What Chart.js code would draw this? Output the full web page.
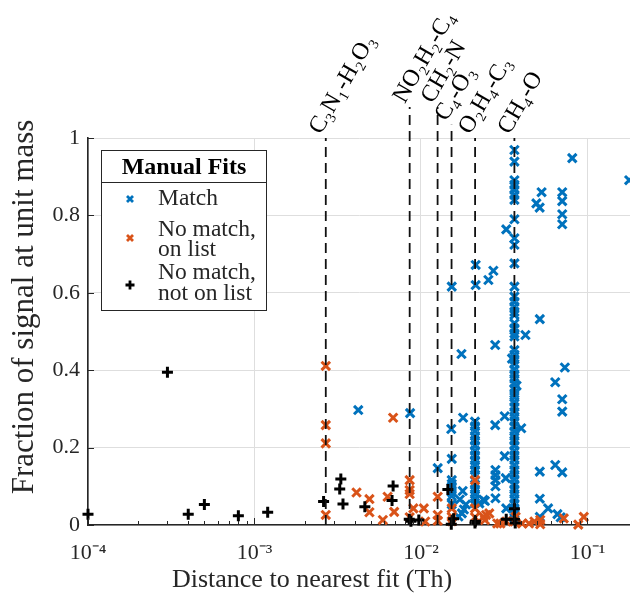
<!DOCTYPE html>
<html>
<head>
<meta charset="utf-8">
<script src="https://cdn.jsdelivr.net/npm/chart.js@4.4.1/dist/chart.umd.min.js"></script>
<style>
  html, body { margin: 0; padding: 0; background: #fff; }
  #wrap { width: 630px; height: 595px; }
</style>
</head>
<body>
<div id="wrap"><canvas id="chart" width="630" height="595"></canvas></div>
<script>
// distance to nearest fit (Th) / fraction of signal at unit mass
const matchX = [
  0.0042, 0.0086, 0.0126, 0.0153, 0.0152, 0.0153, 0.0153, 0.0153, 0.0153, 0.0153, 0.0153, 0.0153,
  0.0179, 0.0175, 0.0178, 0.0171, 0.0186, 0.0181, 0.0168, 0.0176, 0.0237, 0.0224, 0.0242, 0.0213, 0.0213,
  0.0211, 0.0211, 0.0211, 0.0211, 0.0211, 0.0211, 0.0211, 0.0211, 0.0211, 0.0211, 0.0211, 0.0211,
  0.0211, 0.0211, 0.0211, 0.0211, 0.0211,
  0.0254, 0.0272, 0.0279, 0.0279, 0.0280, 0.0280, 0.0280, 0.0280, 0.0280,
  0.0318, 0.0318, 0.0323, 0.0325, 0.0325, 0.0352, 0.0375, 0.0424, 0.0400,
  0.0517, 0.0493, 0.0516, 0.0530, 0.0705, 0.0705, 0.0705, 0.0705, 0.0810, 0.1780,
  0.0731, 0.0640, 0.0705, 0.0705, 0.0517, 0.0517, 0.0517, 0.0640, 0.0705, 0.0580, 0.0660, 0.0690,
  0.0364, 0.0364, 0.0364, 0.0364, 0.0364, 0.0364, 0.0364, 0.0364, 0.0364, 0.0364, 0.0364, 0.0364,
  0.0364, 0.0364, 0.0364, 0.0364, 0.0364, 0.0364, 0.0364, 0.0364, 0.0364,
  0.0364, 0.0364, 0.0364, 0.0364, 0.0364, 0.0364, 0.0364, 0.0364, 0.0364, 0.0364, 0.0364, 0.0364,
  0.0364, 0.0364, 0.0364, 0.0364, 0.0364, 0.0364, 0.0364, 0.0364, 0.0364, 0.0364, 0.0364, 0.0364,
  0.0364, 0.0364, 0.0364, 0.0364, 0.0364, 0.0364, 0.0364, 0.0364, 0.0364, 0.0364, 0.0364, 0.0364
];
const matchY = [
  0.297, 0.289, 0.147, 0.616, 0.248, 0.171, 0.116, 0.106, 0.096, 0.085, 0.075, 0.054,
  0.277, 0.442, 0.088, 0.066, 0.053, 0.040, 0.022, 0.030, 0.065, 0.056, 0.062, 0.672, 0.620,
  0.267, 0.255, 0.243, 0.230, 0.218, 0.205, 0.192, 0.180, 0.167, 0.155, 0.142, 0.130,
  0.104, 0.092, 0.080, 0.068, 0.057,
  0.633, 0.657, 0.465, 0.258, 0.142, 0.129, 0.116, 0.100, 0.069,
  0.281, 0.178, 0.121, 0.043, 0.764, 0.430, 0.360, 0.491, 0.250,
  0.532, 0.831, 0.820, 0.860, 0.860, 0.837, 0.803, 0.777, 0.948, 0.891,
  0.407, 0.369, 0.325, 0.293, 0.138, 0.068, 0.021, 0.155, 0.136, 0.043, 0.028, 0.020,
  0.969, 0.939, 0.891, 0.879, 0.866, 0.853, 0.840, 0.790, 0.741, 0.724, 0.676, 0.616,
  0.590, 0.577, 0.564, 0.551, 0.543, 0.521, 0.508, 0.495, 0.487,
  0.452, 0.440, 0.428, 0.416, 0.402, 0.390, 0.378, 0.366, 0.352, 0.340, 0.330, 0.318,
  0.305, 0.292, 0.280, 0.268, 0.255, 0.242, 0.230, 0.218, 0.205, 0.192, 0.180, 0.168,
  0.155, 0.142, 0.130, 0.118, 0.105, 0.092, 0.080, 0.068, 0.055, 0.043, 0.030, 0.018
];

const onListX = [
  0.00268, 0.00268, 0.00268, 0.00268,
  0.0041, 0.0049, 0.0049, 0.0059, 0.0063, 0.0068, 0.0069,
  0.00855, 0.00855, 0.00855, 0.00855, 0.0090, 0.0104, 0.0106,
  0.0126, 0.0126, 0.0126, 0.0153, 0.0153, 0.0153, 0.0211, 0.0211, 0.0211,
  0.0237, 0.0246, 0.0257, 0.0242, 0.0287, 0.0300, 0.0325, 0.0364, 0.0370, 0.0405,
  0.0445, 0.0480, 0.0520, 0.0520, 0.0720, 0.0880, 0.0950
];
const onListY = [
  0.411, 0.258, 0.211, 0.026,
  0.084, 0.067, 0.033, 0.013, 0.073, 0.277, 0.034,
  0.116, 0.090, 0.080, 0.020, 0.043, 0.043, 0.009,
  0.073, 0.026, 0.011, 0.043, 0.021, 0.010, 0.116, 0.043, 0.020,
  0.021, 0.026, 0.030, 0.013, 0.004, 0.004, 0.009, 0.009, 0.021, 0.004,
  0.004, 0.009, 0.013, 0.002, 0.017, 0.001, 0.021
];

const notOnListX = [
  0.0001, 0.0003, 0.0004, 0.0005, 0.0008, 0.0012,
  0.0026, 0.00325, 0.0033, 0.0034, 0.0046, 0.0067, 0.0068,
  0.0085, 0.0087, 0.0097, 0.0145, 0.0152, 0.0157, 0.0211, 0.0212,
  0.0325, 0.0364, 0.0364, 0.0368
];
const notOnListY = [
  0.028, 0.395, 0.028, 0.053, 0.024, 0.033,
  0.061, 0.093, 0.119, 0.054, 0.047, 0.063, 0.101,
  0.015, 0.010, 0.013, 0.092, 0.002, 0.016, 0.005, 0.010,
  0.015, 0.042, 0.015, 0.005
];

// mass differences of the candidate formula pairs
const fitNames = ['C₃N₁-H₂O₃', 'NO₂H₂-C₄', 'CH₂-N', 'C₄-O₃', 'O₂H₄-C₃', 'CH₄-O'];
const fitOffsets = [0.00268, 0.00855, 0.01258, 0.01526, 0.02113, 0.03639];

const decadeValues = [1e-4, 1e-3, 1e-2, 1e-1];
const decadeLabels = ['10⁻⁴', '10⁻³', '10⁻²', '10⁻¹'];
const yTickValues = [0, 0.2, 0.4, 0.6, 0.8, 1];
const yTickLabels = ['0', '0.2', '0.4', '0.6', '0.8', '1'];

const SERIF = '"Liberation Serif", "Times New Roman", serif';
const INK = '#262626';
const BLUE = '#0072BD', ORANGE = '#D95319', BLACK = '#000000';

// how far above the plot each dashed guide reaches before its label
const guideTop = [1.0, 1.08, 1.08, 1.034, 1.0, 1.0];

const toPoints = (xs, ys) => xs.map((x, i) => ({ x: x, y: ys[i] }));

const isDecade = v => decadeValues.some(d => Math.abs(v - d) / d < 1e-6);

// log ticks at 1..9 times each decade
const xTicks = [];
decadeValues.forEach(d => {
  for (let m = 1; m <= 9; m++) {
    if (d * m <= 0.18) xTicks.push(d * m);
  }
});

const guideSets = fitNames.map((name, i) => ({
  type: 'line',
  label: name,
  data: [{ x: fitOffsets[i], y: 0 }, { x: fitOffsets[i], y: guideTop[i] }],
  showLine: true,
  borderColor: '#111',
  borderWidth: 1.8,
  borderDash: [10, 6],
  pointRadius: 0,
  fill: false,
  clip: false,
  order: 0
}));

function markerSet(label, xs, ys, style, color, radius, order) {
  return {
    label: label,
    data: toPoints(xs, ys),
    pointStyle: style,
    pointRadius: radius,
    pointBorderWidth: 3,
    pointBorderColor: color,
    pointBackgroundColor: color,
    borderColor: color,
    backgroundColor: color,
    clip: false,
    order: order
  };
}

const decor = {
  id: 'decor',
  afterDraw(chart) {
    const ctx = chart.ctx;
    const ax = chart.scales.x, ay = chart.scales.y;
    const area = chart.chartArea;
    ctx.save();

    // inward tick marks
    ctx.strokeStyle = INK;
    ctx.lineWidth = 1;
    ctx.beginPath();
    xTicks.forEach(v => {
      const px = Math.round(ax.getPixelForValue(v)) + 0.5;
      const len = isDecade(v) ? 7 : 4;
      ctx.moveTo(px, area.bottom);
      ctx.lineTo(px, area.bottom - len);
    });
    yTickValues.forEach(v => {
      const py = Math.round(ay.getPixelForValue(v)) + 0.5;
      ctx.moveTo(area.left, py);
      ctx.lineTo(area.left + 6, py);
    });
    ctx.stroke();

    // labels on the dashed guides
    ctx.fillStyle = '#000';
    ctx.font = '24px ' + SERIF;
    ctx.textAlign = 'left';
    ctx.textBaseline = 'bottom';
    fitNames.forEach((name, i) => {
      const px = ax.getPixelForValue(fitOffsets[i]);
      const py = ay.getPixelForValue(guideTop[i]);
      ctx.save();
      ctx.translate(px, py);
      ctx.rotate(-60 * Math.PI / 180);
      ctx.fillText(name, 0, 0);
      ctx.restore();
    });

    // axis titles
    ctx.fillStyle = INK;
    ctx.textAlign = 'center';
    ctx.textBaseline = 'alphabetic';
    ctx.font = '26px ' + SERIF;
    ctx.fillText('Distance to nearest fit (Th)', 312, 587);
    ctx.save();
    ctx.translate(33, 307);
    ctx.rotate(-Math.PI / 2);
    ctx.font = '31px ' + SERIF;
    ctx.fillText('Fraction of signal at unit mass', 0, 0);
    ctx.restore();

    // legend box
    const bx = 101.5, by = 150.5, bw = 165, bh = 160;
    ctx.fillStyle = '#fff';
    ctx.fillRect(bx, by, bw, bh);
    ctx.strokeStyle = INK;
    ctx.lineWidth = 1;
    ctx.strokeRect(bx, by, bw, bh);
    ctx.beginPath();
    ctx.moveTo(bx, 182.5);
    ctx.lineTo(bx + bw, 182.5);
    ctx.stroke();

    ctx.fillStyle = '#000';
    ctx.font = 'bold 24px ' + SERIF;
    ctx.textAlign = 'center';
    ctx.fillText('Manual Fits', bx + bw / 2, 174);

    ctx.font = '23.5px ' + SERIF;
    ctx.textAlign = 'left';
    ctx.fillStyle = INK;
    ctx.fillText('Match', 158, 205);
    ctx.fillText('No match,', 158, 236);
    ctx.fillText('on list', 158, 256);
    ctx.fillText('No match,', 158, 279);
    ctx.fillText('not on list', 158, 300);

    ctx.lineWidth = 2.8;
    const cross = (x, y, r, color, rotated) => {
      ctx.strokeStyle = color;
      ctx.beginPath();
      if (rotated) {
        ctx.moveTo(x - r, y - r); ctx.lineTo(x + r, y + r);
        ctx.moveTo(x - r, y + r); ctx.lineTo(x + r, y - r);
      } else {
        ctx.moveTo(x - r, y); ctx.lineTo(x + r, y);
        ctx.moveTo(x, y - r); ctx.lineTo(x, y + r);
      }
      ctx.stroke();
    };
    cross(130, 199, 3, BLUE, true);
    cross(130, 238, 3, ORANGE, true);
    cross(130, 285, 4.5, BLACK, false);

    ctx.restore();
  }
};

new Chart(document.getElementById('chart'), {
  type: 'scatter',
  data: {
    datasets: guideSets.concat([
      markerSet('No match, not on list', notOnListX, notOnListY, 'cross', BLACK, 5.5, 1),
      markerSet('No match, on list', onListX, onListY, 'crossRot', ORANGE, 6, 2),
      markerSet('Match', matchX, matchY, 'crossRot', BLUE, 6, 3)
    ])
  },
  options: {
    responsive: false,
    animation: false,
    events: [],
    layout: { autoPadding: false, padding: { top: 138, right: 0, bottom: 0, left: 0 } },
    plugins: {
      legend: { display: false },
      tooltip: { enabled: false }
    },
    scales: {
      x: {
        type: 'logarithmic',
        min: 1e-4,
        max: 0.18,
        afterBuildTicks: scale => { scale.ticks = xTicks.map(v => ({ value: v, major: isDecade(v) })); },
        afterFit: scale => {
          scale.height = 70;
          scale.paddingLeft = 0;
          scale.paddingRight = 0;
        },
        grid: {
          drawTicks: false,
          lineWidth: 1,
          color: c => (c.tick && isDecade(c.tick.value)) ? '#dedede' : 'rgba(0,0,0,0)'
        },
        border: { color: INK, width: 1.6 },
        ticks: {
          autoSkip: false,
          maxRotation: 0,
          minRotation: 0,
          padding: 15,
          color: INK,
          font: { family: SERIF, size: 22 },
          callback: v => {
            const k = decadeValues.findIndex(d => Math.abs(v - d) / d < 1e-6);
            return k >= 0 ? decadeLabels[k] : '';
          }
        }
      },
      y: {
        min: 0,
        max: 1,
        afterBuildTicks: scale => { scale.ticks = yTickValues.map(v => ({ value: v })); },
        afterFit: scale => {
          scale.width = 88;
          scale.paddingTop = 0;
          scale.paddingBottom = 0;
        },
        grid: { drawTicks: false, lineWidth: 1, color: '#dedede' },
        border: { color: INK, width: 1.6 },
        ticks: {
          padding: 8,
          color: INK,
          font: { family: SERIF, size: 22 },
          callback: (v, i) => yTickLabels[yTickValues.indexOf(v)]
        }
      }
    }
  },
  plugins: [decor]
});
</script>
</body>
</html>
